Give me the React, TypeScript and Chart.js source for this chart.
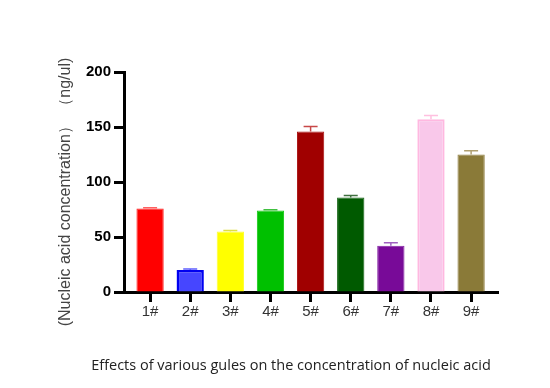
import React, { useEffect, useRef } from "react";
import { Chart, registerables } from "chart.js";

Chart.register(...registerables);

const categories = ["1#", "2#", "3#", "4#", "5#", "6#", "7#", "8#", "9#"];
const values = [76, 20, 55, 74, 146, 86, 42, 157, 125];
const errors = [0.5, 1, 1, 0.8, 4.5, 1.8, 2.7, 3.5, 3.5];
const fillColors = ["#ff0000", "#4646ff", "#ffff00", "#00c000", "#a00000", "#005a00", "#780a98", "#f9c8ea", "#8a7a38"];
const borderColors = ["#ff2020", "#0000f0", "#ffff30", "#10c810", "#a81010", "#106010", "#8420a4", "#ffb8e0", "#907f40"];
const errorColors = ["#ff6060", "#6060ff", "#e0e040", "#40c040", "#c84848", "#407040", "#a060c0", "#ffc0e0", "#b0a070"];
const yTicks = [0, 50, 100, 150, 200];
const yTitle = "(Nucleic acid concentration） （ng/ul)";
const caption = "Effects of various gules on the concentration of nucleic acid";

const extrasPlugin = {
  id: "extras",
  afterDatasetsDraw(chart: any) {
    const { ctx, scales } = chart;
    const meta = chart.getDatasetMeta(0);
    const y = scales.y;
    ctx.save();
    meta.data.forEach((bar: any, i: number) => {
      const top = y.getPixelForValue(values[i] + errors[i]);
      const base = y.getPixelForValue(values[i]);
      ctx.strokeStyle = errorColors[i];
      ctx.lineWidth = 1.5;
      ctx.beginPath();
      ctx.moveTo(bar.x, base);
      ctx.lineTo(bar.x, top);
      ctx.moveTo(bar.x - 7, top);
      ctx.lineTo(bar.x + 7, top);
      ctx.stroke();
    });
    ctx.restore();
  },
  afterDraw(chart: any) {
    const { ctx, chartArea } = chart;
    ctx.save();
    ctx.translate(chartArea.left - 58, (chartArea.top + chartArea.bottom) / 2 + 10);
    ctx.rotate(-Math.PI / 2);
    ctx.fillStyle = "#444";
    ctx.font = "16px 'Liberation Sans', Arial, sans-serif";
    ctx.textAlign = "center";
    ctx.textBaseline = "middle";
    ctx.fillText(yTitle, 0, 0);
    ctx.restore();
    ctx.save();
    ctx.fillStyle = "#222";
    ctx.font = "14.5px 'Open Sans', sans-serif";
    ctx.textAlign = "center";
    ctx.textBaseline = "middle";
    ctx.fillText(caption, (chartArea.left + chartArea.right) / 2 - 20, chartArea.bottom + 74);
    ctx.restore();
  },
};

export default function App() {
  const ref = useRef<HTMLCanvasElement>(null);
  useEffect(() => {
    document.body.style.margin = "0";
    const chart = new Chart(ref.current as HTMLCanvasElement, {
      type: "bar",
      data: {
        datasets: [
          {
            data: values.map((v, i) => ({ x: i + 1, y: v })),
            backgroundColor: fillColors,
            borderColor: borderColors,
            borderWidth: values.map((_, i) => (i === 1 ? 2.5 : i === 7 ? 2 : 1)),
            borderSkipped: "bottom",
            barPercentage: 0.68,
            categoryPercentage: 1,
          } as any,
        ],
      },
      options: {
        responsive: false,
        animation: false,
        layout: { padding: { top: 72, right: 52, left: 0, bottom: 0 } },
        plugins: { legend: { display: false }, tooltip: { enabled: false } },
        scales: {
          x: {
            type: "linear",
            min: 0.35,
            max: 9.67,
            offset: false,
            afterBuildTicks: (s: any) => {
              s.ticks = categories.map((_, i) => ({ value: i + 1 }));
            },
            afterFit: (s: any) => {
              s.height = 96;
            },
            border: { display: true, color: "#000", width: 3 },
            grid: { display: true, offset: false, drawOnChartArea: false, drawTicks: true, tickLength: 10, tickWidth: 3, tickColor: "#000" },
            ticks: {
              autoSkip: false,
              maxRotation: 0,
              padding: 1,
              color: "#333",
              font: { family: "'Liberation Sans', Arial, sans-serif", size: 15 },
              callback: (v: any) => categories[Number(v) - 1] ?? "",
            },
          },
          y: {
            type: "linear",
            min: 0,
            max: 200,
            afterBuildTicks: (s: any) => {
              s.ticks = yTicks.map((v) => ({ value: v }));
            },
            afterFit: (s: any) => {
              s.width = 124;
            },
            border: { display: true, color: "#000", width: 3 },
            grid: { display: true, drawOnChartArea: false, drawTicks: true, tickLength: 10, tickWidth: 3, tickColor: "#000" },
            ticks: {
              padding: 3,
              color: "#000",
              font: { family: "'Liberation Sans', Arial, sans-serif", size: 15, weight: "bold" },
            },
          },
        },
      } as any,
      plugins: [extrasPlugin],
    });
    return () => chart.destroy();
  }, []);
  return <canvas ref={ref} width={550} height={388} />;
}
